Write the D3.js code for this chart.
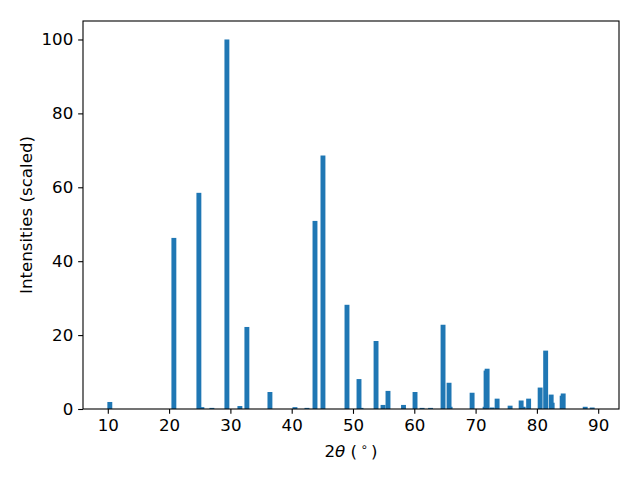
<!DOCTYPE html>
<html lang="en">
<head>
    <meta charset="UTF-8">
    <title>XRD pattern</title>
    <script src="https://cdn.jsdelivr.net/npm/d3@7"></script>
    <style>
        body { margin: 0; background: white; }
        svg { display: block; font-family: "DejaVu Sans", sans-serif; }
    </style>
</head>
<body>
    <svg id="chart"></svg>
    <script>
        // peak positions (2theta, degrees) and scaled intensities
        const twoTheta = [10.33, 20.78, 24.86, 25.35, 26.98, 29.43, 31.55, 32.69, 36.45, 40.53,
                          42.49, 43.80, 45.10, 49.02, 50.98, 51.31, 53.76, 54.90, 55.71, 58.24,
                          60.12, 61.27, 62.65, 64.69, 65.67, 65.84, 69.43, 71.55, 71.71, 71.88,
                          72.69, 73.51, 75.63, 77.43, 77.76, 78.65, 80.53, 81.43, 82.33, 82.49,
                          84.12, 84.29, 87.88, 89.02]
        const intensity = [1.9, 46.3, 58.5, 0.5, 0.3, 100, 0.8, 22.2, 4.6, 0.5,
                           0.3, 50.9, 68.6, 28.2, 8.1, 0.3, 18.4, 1.1, 4.9, 1.1,
                           4.6, 0.3, 0.3, 22.8, 7.1, 0.6, 4.4, 0.6, 10.4, 10.9,
                           0.4, 2.8, 0.9, 2.3, 0.6, 2.8, 5.8, 15.8, 3.9, 1.7,
                           3.6, 4.2, 0.6, 0.4]
        const xTicks = [10, 20, 30, 40, 50, 60, 70, 80, 90]
        const yTicks = [0, 20, 40, 60, 80, 100]

        const w = 640, h = 480
        const mLeft = 83, mRight = 619, mTop = 21, mBottom = 409
        const barW = 0.8
        const fs = 16.67
        const tick = 4.86

        const peaks = twoTheta.map((t, i) => ({ t: t, v: intensity[i] }))

        // matplotlib style 5% margins around the bar extents
        let x0 = d3.min(twoTheta) - barW / 2
        let x1 = d3.max(twoTheta) + barW / 2
        let pad = (x1 - x0) * 0.05
        let xScale = d3.scaleLinear()
                       .domain([x0 - pad, x1 + pad])
                       .range([mLeft, mRight])
        let yScale = d3.scaleLinear()
                       .domain([0, d3.max(intensity) * 1.05])
                       .range([mBottom, mTop])

        let svg = d3.select('#chart')
                    .attr('width', w)
                    .attr('height', h)

        svg.append('g')
           .selectAll('rect')
           .data(peaks)
           .enter()
           .append('rect')
           .attr('fill', '#1f77b4')
           .attr('x', (d) => xScale(d.t - barW / 2))
           .attr('width', (d) => xScale(d.t + barW / 2) - xScale(d.t - barW / 2))
           .attr('y', (d) => yScale(d.v))
           .attr('height', (d) => mBottom - yScale(d.v))

        let xAxis = d3.axisBottom(xScale)
                      .tickValues(xTicks)
                      .tickSize(tick)
                      .tickPadding(4.86)
                      .tickSizeOuter(0)
        let yAxis = d3.axisLeft(yScale)
                      .tickValues(yTicks)
                      .tickSize(tick)
                      .tickPadding(4.86)
                      .tickSizeOuter(0)

        let gx = svg.append('g')
                    .attr('transform', 'translate(0,' + mBottom + ')')
                    .call(xAxis)
        let gy = svg.append('g')
                    .attr('transform', 'translate(' + mLeft + ',0)')
                    .call(yAxis)

        for (let g of [gx, gy]) {
            g.select('.domain').remove()
            g.selectAll('line').attr('stroke', 'black').attr('stroke-width', 1.1)
            g.selectAll('text')
             .attr('fill', 'black')
             .style('font-size', fs + 'px')
             .style('font-family', '"DejaVu Sans", sans-serif')
        }

        // frame
        svg.append('rect')
           .attr('x', mLeft)
           .attr('y', mTop)
           .attr('width', mRight - mLeft)
           .attr('height', mBottom - mTop)
           .attr('fill', 'none')
           .attr('stroke', 'black')
           .attr('stroke-width', 1.1)

        // x label: 2θ (°)
        let xl = svg.append('text')
                    .attr('x', (mLeft + mRight) / 2)
                    .attr('y', 457)
                    .attr('text-anchor', 'middle')
                    .style('font-size', fs + 'px')
        xl.append('tspan').text('2')
        xl.append('tspan').style('font-style', 'italic').text('θ')
        xl.append('tspan').text(' (\u2009')
        xl.append('tspan').attr('dy', -6).style('font-size', '11.7px').text('∘')
        xl.append('tspan').attr('dy', 6).text('\u2009)')

        svg.append('text')
           .attr('transform', 'translate(32,' + ((mTop + mBottom) / 2) + ') rotate(-90)')
           .attr('text-anchor', 'middle')
           .style('font-size', fs + 'px')
           .text('Intensities (scaled)')
    </script>
</body>
</html>
